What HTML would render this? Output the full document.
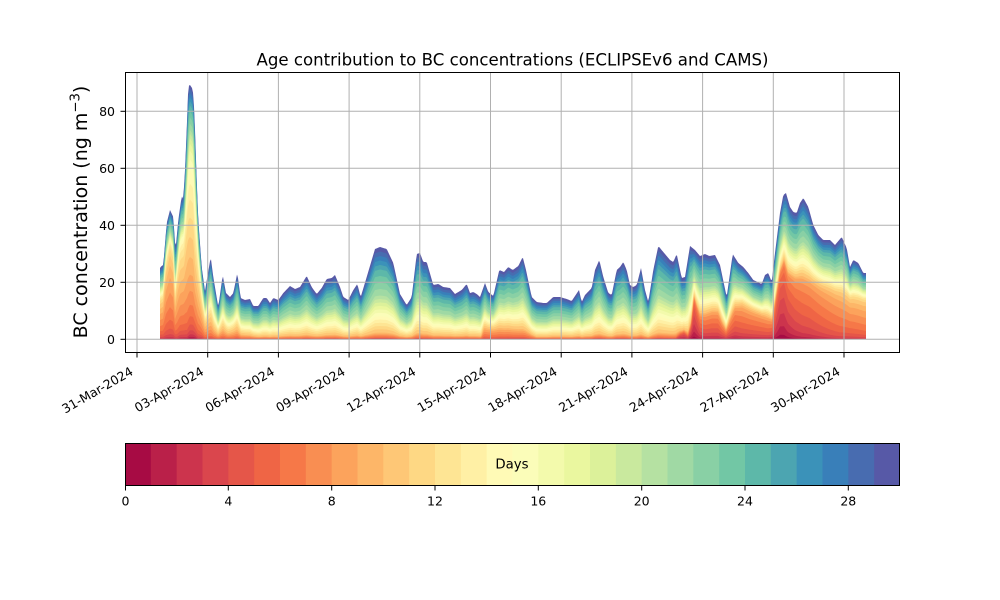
<!DOCTYPE html>
<html>
<head>
<meta charset="utf-8">
<style>
  html,body{margin:0;padding:0;background:#fff;}
  svg{display:block;}
  text{font-family:"DejaVu Sans","Liberation Sans",sans-serif;fill:#000;}
</style>
</head>
<body>
<svg id="chart" xmlns="http://www.w3.org/2000/svg" width="1000" height="600" viewBox="0 0 1000 600">
  <rect x="0" y="0" width="1000" height="600" fill="#fff"/>
  <g id="areas"></g>

  <!-- grid -->
  <g stroke="#b0b0b0" stroke-width="1" fill="none">
    <line x1="125" y1="339.3" x2="900" y2="339.3"/>
    <line x1="125" y1="282.3" x2="900" y2="282.3"/>
    <line x1="125" y1="225.3" x2="900" y2="225.3"/>
    <line x1="125" y1="168.3" x2="900" y2="168.3"/>
    <line x1="125" y1="111.3" x2="900" y2="111.3"/>
    <line x1="137.0" y1="72" x2="137.0" y2="352.5"/>
    <line x1="207.7" y1="72" x2="207.7" y2="352.5"/>
    <line x1="278.4" y1="72" x2="278.4" y2="352.5"/>
    <line x1="349.1" y1="72" x2="349.1" y2="352.5"/>
    <line x1="419.8" y1="72" x2="419.8" y2="352.5"/>
    <line x1="490.5" y1="72" x2="490.5" y2="352.5"/>
    <line x1="561.2" y1="72" x2="561.2" y2="352.5"/>
    <line x1="631.9" y1="72" x2="631.9" y2="352.5"/>
    <line x1="702.6" y1="72" x2="702.6" y2="352.5"/>
    <line x1="773.3" y1="72" x2="773.3" y2="352.5"/>
    <line x1="844.0" y1="72" x2="844.0" y2="352.5"/>
  </g>

  <!-- spines -->
  <rect x="125.5" y="72.5" width="774" height="280" fill="none" stroke="#000" stroke-width="1"/>

  <!-- y ticks -->
  <g stroke="#000" stroke-width="1">
    <line x1="120.5" y1="339.3" x2="125" y2="339.3"/>
    <line x1="120.5" y1="282.3" x2="125" y2="282.3"/>
    <line x1="120.5" y1="225.3" x2="125" y2="225.3"/>
    <line x1="120.5" y1="168.3" x2="125" y2="168.3"/>
    <line x1="120.5" y1="111.3" x2="125" y2="111.3"/>
  </g>
  <g font-size="12.5" text-anchor="end">
    <text x="115" y="343.9">0</text>
    <text x="115" y="286.9">20</text>
    <text x="115" y="229.9">40</text>
    <text x="115" y="172.9">60</text>
    <text x="115" y="115.9">80</text>
  </g>

  <!-- x ticks -->
  <g stroke="#000" stroke-width="1">
    <line x1="137.0" y1="352.5" x2="137.0" y2="357.5"/>
    <line x1="207.7" y1="352.5" x2="207.7" y2="357.5"/>
    <line x1="278.4" y1="352.5" x2="278.4" y2="357.5"/>
    <line x1="349.1" y1="352.5" x2="349.1" y2="357.5"/>
    <line x1="419.8" y1="352.5" x2="419.8" y2="357.5"/>
    <line x1="490.5" y1="352.5" x2="490.5" y2="357.5"/>
    <line x1="561.2" y1="352.5" x2="561.2" y2="357.5"/>
    <line x1="631.9" y1="352.5" x2="631.9" y2="357.5"/>
    <line x1="702.6" y1="352.5" x2="702.6" y2="357.5"/>
    <line x1="773.3" y1="352.5" x2="773.3" y2="357.5"/>
    <line x1="844.0" y1="352.5" x2="844.0" y2="357.5"/>
  </g>
  <g font-size="12.5" text-anchor="end">
    <text transform="translate(134.0,374) rotate(-30)">31-Mar-2024</text>
    <text transform="translate(204.7,374) rotate(-30)">03-Apr-2024</text>
    <text transform="translate(275.4,374) rotate(-30)">06-Apr-2024</text>
    <text transform="translate(346.1,374) rotate(-30)">09-Apr-2024</text>
    <text transform="translate(416.8,374) rotate(-30)">12-Apr-2024</text>
    <text transform="translate(487.5,374) rotate(-30)">15-Apr-2024</text>
    <text transform="translate(558.2,374) rotate(-30)">18-Apr-2024</text>
    <text transform="translate(628.9,374) rotate(-30)">21-Apr-2024</text>
    <text transform="translate(699.6,374) rotate(-30)">24-Apr-2024</text>
    <text transform="translate(770.3,374) rotate(-30)">27-Apr-2024</text>
    <text transform="translate(841.0,374) rotate(-30)">30-Apr-2024</text>
  </g>

  <!-- title -->
  <text x="512.5" y="65.5" font-size="16.6" text-anchor="middle">Age contribution to BC concentrations (ECLIPSEv6 and CAMS)</text>

  <!-- y label -->
  <text transform="translate(87,212) rotate(-90)" font-size="19" text-anchor="middle">BC concentration (ng m<tspan font-size="13.3" dy="-7.5">−3</tspan><tspan dy="7.5">)</tspan></text>

  <!-- colorbar -->
  <g id="cbar" stroke="none">
    <rect x="125.00" y="443" width="26.3" height="42" fill="rgb(167,11,68)"/>
    <rect x="150.83" y="443" width="26.3" height="42" fill="rgb(186,32,73)"/>
    <rect x="176.67" y="443" width="26.3" height="42" fill="rgb(204,52,77)"/>
    <rect x="202.50" y="443" width="26.3" height="42" fill="rgb(218,70,77)"/>
    <rect x="228.33" y="443" width="26.3" height="42" fill="rgb(229,86,73)"/>
    <rect x="254.17" y="443" width="26.3" height="42" fill="rgb(239,101,69)"/>
    <rect x="280.00" y="443" width="26.3" height="42" fill="rgb(246,120,72)"/>
    <rect x="305.83" y="443" width="26.3" height="42" fill="rgb(249,142,82)"/>
    <rect x="331.67" y="443" width="26.3" height="42" fill="rgb(252,163,92)"/>
    <rect x="357.50" y="443" width="26.3" height="42" fill="rgb(253,182,104)"/>
    <rect x="383.33" y="443" width="26.3" height="42" fill="rgb(254,199,118)"/>
    <rect x="409.17" y="443" width="26.3" height="42" fill="rgb(254,216,132)"/>
    <rect x="435.00" y="443" width="26.3" height="42" fill="rgb(254,229,148)"/>
    <rect x="460.83" y="443" width="26.3" height="42" fill="rgb(255,240,165)"/>
    <rect x="486.67" y="443" width="26.3" height="42" fill="rgb(255,250,182)"/>
    <rect x="512.50" y="443" width="26.3" height="42" fill="rgb(251,253,185)"/>
    <rect x="538.33" y="443" width="26.3" height="42" fill="rgb(243,250,172)"/>
    <rect x="564.17" y="443" width="26.3" height="42" fill="rgb(234,247,159)"/>
    <rect x="590.00" y="443" width="26.3" height="42" fill="rgb(220,241,154)"/>
    <rect x="615.83" y="443" width="26.3" height="42" fill="rgb(201,233,158)"/>
    <rect x="641.67" y="443" width="26.3" height="42" fill="rgb(181,225,162)"/>
    <rect x="667.50" y="443" width="26.3" height="42" fill="rgb(160,217,164)"/>
    <rect x="693.33" y="443" width="26.3" height="42" fill="rgb(137,208,165)"/>
    <rect x="719.17" y="443" width="26.3" height="42" fill="rgb(114,199,165)"/>
    <rect x="745.00" y="443" width="26.3" height="42" fill="rgb(93,184,169)"/>
    <rect x="770.83" y="443" width="26.3" height="42" fill="rgb(76,165,177)"/>
    <rect x="796.67" y="443" width="26.3" height="42" fill="rgb(59,146,185)"/>
    <rect x="822.50" y="443" width="26.3" height="42" fill="rgb(57,127,185)"/>
    <rect x="848.33" y="443" width="26.3" height="42" fill="rgb(72,108,176)"/>
    <rect x="874.17" y="443" width="25.83" height="42" fill="rgb(87,89,167)"/>
  </g>
  <rect x="125.5" y="443.5" width="774" height="42" fill="none" stroke="#000" stroke-width="1"/>
  <text x="512" y="468.5" font-size="13.3" text-anchor="middle">Days</text>
  <g stroke="#000" stroke-width="1">
    <line x1="125.5" y1="485.5" x2="125.5" y2="490.5"/>
    <line x1="228.3" y1="485.5" x2="228.3" y2="490.5"/>
    <line x1="331.7" y1="485.5" x2="331.7" y2="490.5"/>
    <line x1="435.0" y1="485.5" x2="435.0" y2="490.5"/>
    <line x1="538.3" y1="485.5" x2="538.3" y2="490.5"/>
    <line x1="641.7" y1="485.5" x2="641.7" y2="490.5"/>
    <line x1="745.0" y1="485.5" x2="745.0" y2="490.5"/>
    <line x1="848.3" y1="485.5" x2="848.3" y2="490.5"/>
  </g>
  <g font-size="12.5" text-anchor="middle">
    <text x="125.5" y="505.7">0</text>
    <text x="228.3" y="505.7">4</text>
    <text x="331.7" y="505.7">8</text>
    <text x="435.0" y="505.7">12</text>
    <text x="538.3" y="505.7">16</text>
    <text x="641.7" y="505.7">20</text>
    <text x="745.0" y="505.7">24</text>
    <text x="848.3" y="505.7">28</text>
  </g>
</svg>
<script>
(function(){
  var S=[[158,1,66],[213,62,79],[244,109,67],[253,174,97],[254,224,139],[255,255,191],[230,245,152],[171,221,164],[102,194,165],[50,136,189],[94,79,162]];
  function spec(t){var p=t*10;var k=Math.floor(p);if(k>=10)k=9;var f=p-k;var a=S[k],b=S[k+1];
    return 'rgb('+Math.round(a[0]+(b[0]-a[0])*f)+','+Math.round(a[1]+(b[1]-a[1])*f)+','+Math.round(a[2]+(b[2]-a[2])*f)+')';}
  var cols=[];for(var i=0;i<30;i++)cols.push(spec((i+0.5)/30));

  var TOP=[[160,268],[161.5,266],[163.3,265],[166.7,223],[170,210],[173.3,217],[175.5,250],[178.3,220],[181.7,196],[183.3,199],[185,170],[186.7,130],[188.3,86],[190,85],[192,88],[193.5,95],[195,130],[196.7,180],[198.3,220],[201.7,267],[205,291],[207.3,277],[210.7,257],[213.3,277],[218.3,307],[222.7,275],[226,293],[230,297],[233.3,293],[237.3,273],[240.7,298],[245,300],[250,299],[253.3,306],[258.3,306],[263.3,298],[266.7,298],[270,303],[273.3,298],[278.3,300],[283.3,293],[290,286],[295,289],[300,287],[306.7,276],[311.7,287],[316.7,294],[321.7,288],[326.7,279],[331.7,278],[335,275],[340,287],[343.3,297],[348.3,300],[353.3,290],[357.3,284],[360.7,297],[366.7,277],[375,249],[380,247],[386.7,249],[393.3,263],[400,294],[406.7,305],[411.7,297],[416.7,254],[420,253],[423.3,262],[426.7,262],[433.3,285],[438.3,284],[443.3,287],[450,288],[455,294],[461.7,290],[466.7,284],[470,293],[473.3,292],[476.7,294],[480,297],[485,283],[488.3,292],[493.3,296],[499.3,270],[504,272],[508.3,267],[512.7,270],[518.3,266],[522.7,257],[526,270],[531.7,297],[536.7,302],[543.3,303],[546.7,303],[553.3,297],[560,297],[566.7,299],[571.7,301],[579,290],[581.7,302],[585,295],[591.7,288],[595,270],[599.3,260],[603.3,277],[608.3,293],[611.7,295],[616.7,270],[620,267],[623.3,262],[626.7,270],[630,285],[633.3,287],[636.7,285],[641,268],[645,290],[648.3,302],[653.3,270],[658.3,246],[663.3,252],[670,260],[673.3,262],[676.7,254],[681.7,278],[685,277],[690,246],[695,250],[700,256],[705,254],[709.3,256],[715,255],[720,265],[726.7,297],[732.7,254],[738.3,263],[743.3,267],[748.3,273],[753.3,280],[761.7,284],[765,275],[768.3,273],[771.7,282],[775,253],[780,213],[783.3,195],[786,193],[790,207],[793.3,212],[796.7,213],[800,203],[803.3,198],[808.3,207],[813.3,225],[818.3,235],[823.3,240],[830,240],[835,245],[841.7,237],[846.7,248],[850,267],[853.3,260],[858.3,263],[863.3,273],[866,273]];

  var EP=[[160,35,7.5,2.5],[163,38,7.5,2.5],[166,70,7.5,2.5],[170,90,7.5,2.5],[173,80,7.5,2.5],[175,35,7.5,2.5],[177,55,8,2.5],[180,85,8.5,3],[184,90,8.5,3],[187,120,9,3],[190,170,10,4],[193,165,10,4],[195,120,10,4],[198,70,9,3],[202,35,8.5,3],[205,15,8.5,2.5],[208,18,8.5,2.5],[211,20,8.5,2.5],[214,10,8.5,2.5],[218,5,8.5,2.5],[223,10,8.5,2.5],[228,5,8.5,2.5],[237,9,8.5,2.5],[241,3,8.5,2.5],[250,2,8.5,2.5],[260,0,8.5,2.5],
    [481,0,7,2],[484,9,7,2],[495,8,7,2],[510,7,7,2],[525,5,7,2],[532,2,7,2],[536,0,7,2],
    [676,0,3,1.5],[680,4,3,1.5],[684,6,3,1.5],[688,2,3,1.5],[691,12,3,2],[694,40,3,2],[697,30,3.5,2],[700,22,4.5,2.2],[705,22,5,2.2],[712,25,5,2.2],[718,25,5,2.2],[722,15,5,2.2],[726,8,5,2.2],[730,18,5,2.2],[735,30,5,2.2],[742,32,5.5,2.2],[750,28,5.5,2.2],[760,24,5.5,2.2],[768,20,5.5,2.2],[772,18,5,2.2],[776,40,3.5,2],[780,65,3,2],[784,75,3.2,2],[788,62,3.8,2],[795,58,4.5,2],[802,58,5,2],[810,55,5.2,2],[820,50,5.7,2],[830,46,6.2,2],[840,42,6.6,2],[850,38,6.8,2.2],[866,36,7.2,2.2]];

  function interp(arr,x,idx){
    if(x<=arr[0][0])return arr[0][idx];
    for(var k=1;k<arr.length;k++){
      if(x<=arr[k][0]){var a=arr[k-1],b=arr[k];var f=(x-a[0])/(b[0]-a[0]);return a[idx]+(b[idx]-a[idx])*f;}
    }
    return arr[arr.length-1][idx];
  }

  var base=339.3;
  var xs=[];for(var x=160;x<=866;x+=1)xs.push(x);
  var cum=[];for(var i=0;i<30;i++)cum.push(new Array(xs.length));
  var w=[];
  for(var i=0;i<30;i++){
    var v;
    if(i<3)v=0.05;else if(i<6)v=0.1;else if(i<10)v=0.3;else if(i<15)v=0.8;else if(i<21)v=0.85;else if(i<25)v=1.6;else v=1.1;
    w.push(v);
  }
  var ws=0;for(var i=0;i<30;i++)ws+=w[i];

  for(var k=0;k<xs.length;k++){
    var xx=xs[k];
    var T=base-interp(TOP,xx,1);
    var e=interp(EP,xx,1),mu=interp(EP,xx,2),sg=interp(EP,xx,3);
    if(e>0.92*T)e=0.92*T;
    if(e<0)e=0;
    var B=T-e;
    var g=[],gs=0;
    for(var i=0;i<30;i++){var q=Math.exp(-0.5*Math.pow((i-mu)/sg,2));g.push(q);gs+=q;}
    var c=0;
    for(var i=0;i<30;i++){c+=B*w[i]/ws+e*g[i]/gs;cum[i][k]=c;}
  }

  var NS="http://www.w3.org/2000/svg";
  var grp=document.getElementById('areas');
  for(var i=29;i>=0;i--){
    var d='M160,'+base;
    for(var k=0;k<xs.length;k++){d+='L'+xs[k]+','+(base-cum[i][k]).toFixed(2);}
    d+='L866,'+base+'Z';
    var p=document.createElementNS(NS,'path');
    p.setAttribute('d',d);
    p.setAttribute('fill',cols[i]);
    p.setAttribute('stroke','none');
    grp.appendChild(p);
  }
})();
</script>
</body>
</html>
